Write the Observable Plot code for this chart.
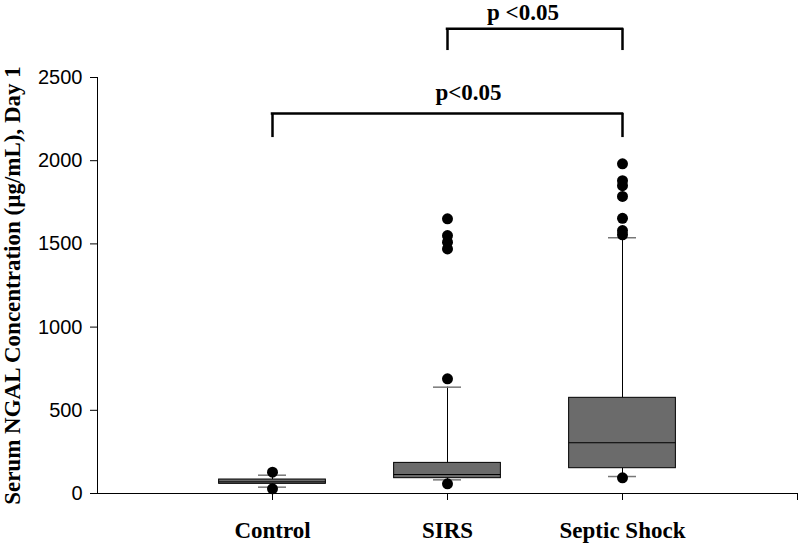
<!DOCTYPE html>
<html>
<head>
<meta charset="utf-8">
<script src="https://cdn.jsdelivr.net/npm/d3@7"></script>
<script src="https://cdn.jsdelivr.net/npm/@observablehq/plot@0.6"></script>
<style>
  html, body { margin: 0; padding: 0; background: #fff; }
  svg { display: block; }
</style>
</head>
<body>
<div id="chart"></div>
<script>
// ---- data ----
const groups = ["Control", "SIRS", "Septic Shock"];
const q1 = [58, 92, 152];
const median = [70, 114, 305];
const q3 = [84, 184, 575];
const whiskerLow = [38, 82, 102];
const whiskerHigh = [110, 639, 1537];
const outliers = [
  [128, 28],
  [1651, 1550, 1510, 1470, 689, 58],
  [1981, 1880, 1850, 1785, 1654, 1580, 1555, 94]
];
const yTicks = [0, 500, 1000, 1500, 2000, 2500];
const yLabel = "Serum NGAL Concentration (\u00b5g/mL), Day 1";
const brackets = [
  {from: "SIRS", to: "Septic Shock", label: "p <0.05", level: 2793, tip: 2662, textY: 2846},
  {from: "Control", to: "Septic Shock", label: "p<0.05", level: 2284, tip: 2139, textY: 2362}
];

// ---- derived tables ----
const pos = g => groups.indexOf(g) + 1;
const boxes = groups.map((g, i) => ({g, x: i + 1, q1: q1[i], med: median[i], q3: q3[i], lo: whiskerLow[i], hi: whiskerHigh[i]}));
const pts = groups.flatMap((g, i) => outliers[i].map(v => ({x: i + 1, v})));

const half = 0.305;   // box half-width in x units
const cap = 0.08;     // whisker cap half-width
const serif = "'Liberation Serif', 'Times New Roman', serif";
const sans = "'Liberation Sans', Arial, sans-serif";
const labelShift = [-12, 21];

const chart = Plot.plot({
  width: 800,
  height: 545,
  marginLeft: 97,
  marginRight: 3,
  marginTop: 77,
  marginBottom: 52,
  x: {domain: [0, 4], axis: null},
  y: {domain: [0, 2500], axis: null},
  marks: [
    // axes
    Plot.axisY({ticks: yTicks, tickSize: 7, tickPadding: 8, fontSize: 20, fontFamily: sans, label: null, tickFormat: d => String(d)}),
    Plot.ruleX([0], {y1: 0, y2: 2500, stroke: "#000"}),
    Plot.ruleY([0], {x1: 0, x2: 4, stroke: "#000"}),
    Plot.axisX({ticks: [1, 2, 3, 4], tickSize: 7, tickPadding: 21, fontSize: 23, fontWeight: "bold", fontFamily: serif, label: null, tickFormat: d => groups[d - 1] ?? ""}),
    // whiskers
    Plot.ruleX(boxes, {x: "x", y1: "q3", y2: "hi", stroke: "#000"}),
    Plot.ruleX(boxes, {x: "x", y1: "q1", y2: "lo", stroke: "#000"}),
    Plot.ruleY(boxes, {y: "hi", x1: d => d.x - cap, x2: d => d.x + cap, stroke: "#777", strokeWidth: 1.5}),
    Plot.ruleY(boxes, {y: "lo", x1: d => d.x - cap, x2: d => d.x + cap, stroke: "#777", strokeWidth: 1.5}),
    // boxes
    Plot.rect(boxes, {x1: d => d.x - half, x2: d => d.x + half, y1: "q1", y2: "q3", fill: "#6b6b6b", stroke: "#000", strokeWidth: 1}),
    Plot.ruleY(boxes, {y: "med", x1: d => d.x - half, x2: d => d.x + half, stroke: "#000"}),
    // outliers
    Plot.dot(pts, {x: "x", y: "v", r: 5.5, fill: "#000", stroke: "none"}),
    // significance brackets
    Plot.ruleY(brackets, {y: "level", x1: d => pos(d.from), x2: d => pos(d.to), stroke: "#000", strokeWidth: 2.5, strokeLinecap: "square"}),
    Plot.ruleX(brackets, {x: d => pos(d.from), y1: "tip", y2: "level", stroke: "#000", strokeWidth: 2.5}),
    Plot.ruleX(brackets, {x: d => pos(d.to), y1: "tip", y2: "level", stroke: "#000", strokeWidth: 2.5}),
    ...brackets.map((b, i) => Plot.text([b], {
      x: d => (pos(d.from) + pos(d.to)) / 2, y: "textY", text: "label",
      dx: labelShift[i], fontSize: 23, fontWeight: "bold", fontFamily: serif, lineAnchor: "bottom", fill: "#000"
    })),
    // y axis title
    Plot.text([yLabel], {frameAnchor: "left", textAnchor: "middle", rotate: -90, dx: -78, fontSize: 23, fontWeight: "bold", fontFamily: serif, lineAnchor: "bottom", fill: "#000"})
  ]
});
document.getElementById("chart").appendChild(chart);
</script>
</body>
</html>
